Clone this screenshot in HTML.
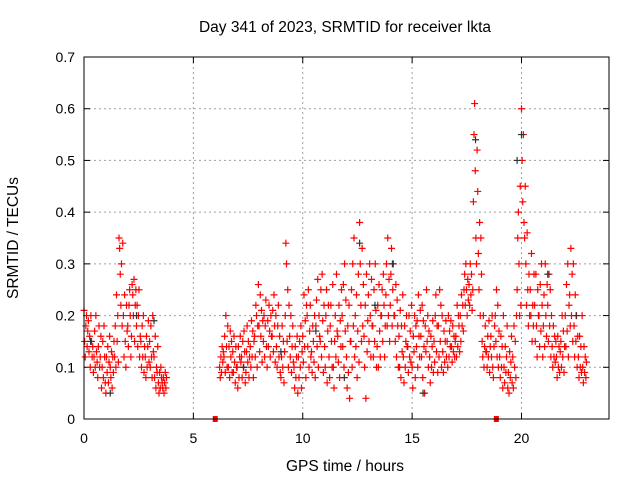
<!DOCTYPE html>
<html><head><meta charset="utf-8"><style>
body{margin:0;background:#fff}
svg{font-family:"Liberation Sans",sans-serif}
</style></head><body>
<svg id="chart" width="640" height="480" xmlns="http://www.w3.org/2000/svg">
<text x="345" y="32" font-size="15.5" text-anchor="middle">Day 341 of 2023, SRMTID for receiver lkta</text>
<text transform="translate(18,238) rotate(-90)" font-size="15.5" text-anchor="middle">SRMTID / TECUs</text>
<text x="345" y="471" font-size="15.5" text-anchor="middle">GPS time / hours</text>
<g id="grid"></g><g id="marks"></g>
<rect x="84" y="57" width="525" height="362" fill="none" stroke="#000" stroke-width="1"/>
</svg>
<script>
const xTicks=[0,5,10,15,20];
const yTicks=[0,0.1,0.2,0.3,0.4,0.5,0.6,0.7];
const yTickLabels=["0","0.1","0.2","0.3","0.4","0.5","0.6","0.7"];
const binStarts=[0,0.2,0.4,0.6,0.8,1.0,1.2,1.4,1.6,1.8,2.0,2.2,2.4,2.6,2.8,3.0,3.2,3.4,3.6,
6.2,6.4,6.6,6.8,7.0,7.2,7.4,7.6,7.8,8.0,8.2,8.4,8.6,8.8,9.0,9.2,9.4,9.6,9.8,10.0,10.2,10.4,10.6,10.8,11.0,11.2,11.4,11.6,11.8,12.0,12.2,12.4,12.6,12.8,13.0,13.2,13.4,13.6,13.8,14.0,14.2,14.4,14.6,14.8,15.0,15.2,15.4,15.6,15.8,16.0,16.2,16.4,16.6,16.8,17.0,17.2,17.4,17.6,17.8,18.0,18.2,18.4,18.6,18.8,19.0,19.2,19.4,19.6,19.8,20.0,20.2,20.4,20.6,20.8,21.0,21.2,21.4,21.6,21.8,22.0,22.2,22.4,22.6,22.8];
const binValues=[
[.21,.15,.12,.18,.2,.14,.17],[.19,.13,.16,.1,.2,.15,.12],[.14,.09,.12,.17,.1,.2,.13],[.11,.08,.14,.18,.1,.12,.16],[.06,.1,.15,.08,.18,.12,.07],[.05,.12,.09,.14,.07,.11,.16],[.1,.08,.13,.06,.12,.09,.15],[.12,.18,.1,.24,.15,.2,.11],[.35,.33,.28,.22,.3,.18,.34],[.2,.12,.24,.15,.1,.22,.17],[.18,.14,.22,.25,.2,.12,.16],[.26,.24,.2,.27,.15,.22,.25],[.18,.22,.14,.2,.25,.12,.16],[.15,.1,.18,.12,.2,.09,.14],[.12,.08,.16,.1,.14,.19,.11],[.15,.1,.18,.12,.08,.2,.13],[.12,.08,.16,.06,.1,.09,.14],[.07,.05,.09,.06,.1,.08,.07],[.06,.08,.05,.07,.09,.06,.08],
[.1,.08,.12,.09,.14,.11,.13],[.12,.16,.09,.2,.14,.1,.18],[.1,.14,.08,.17,.12,.15,.09],[.13,.09,.16,.11,.07,.14,.1],[.1,.06,.14,.08,.12,.16,.11],[.12,.08,.15,.1,.17,.13,.07],[.09,.13,.18,.11,.15,.08,.12],[.14,.1,.19,.12,.17,.08,.15],[.16,.12,.22,.2,.1,.18,.26],[.18,.13,.24,.16,.21,.11,.19],[.15,.2,.12,.18,.23,.14,.1],[.19,.14,.22,.17,.12,.2,.16],[.16,.21,.13,.24,.18,.11,.2],[.14,.1,.18,.22,.12,.16,.09],[.08,.12,.18,.1,.15,.07,.13],[.2,.34,.3,.15,.25,.1,.22],[.16,.12,.2,.09,.14,.18,.11],[.1,.06,.14,.08,.12,.16,.05],[.12,.08,.15,.1,.18,.06,.13],[.16,.11,.24,.14,.19,.08,.22],[.2,.14,.25,.1,.17,.22,.12],[.13,.09,.18,.15,.11,.2,.08],[.18,.23,.14,.27,.1,.2,.16],[.15,.25,.12,.28,.19,.09,.22],[.14,.1,.2,.25,.07,.17,.22],[.12,.08,.18,.22,.15,.1,.26],[.1,.06,.15,.2,.12,.28,.17],[.16,.11,.22,.08,.19,.14,.25],[.2,.14,.26,.1,.3,.17,.23],[.12,.06,.18,.09,.22,.04,.15],[.15,.25,.1,.3,.18,.35,.12],[.2,.14,.24,.08,.17,.28,.11],[.38,.3,.22,.15,.33,.18,.26],[.16,.1,.22,.04,.28,.13,.19],[.24,.15,.3,.2,.12,.27,.18],[.18,.12,.25,.15,.3,.21,.1],[.14,.22,.1,.26,.17,.12,.2],[.2,.25,.15,.28,.22,.12,.18],[.24,.3,.18,.35,.2,.27,.15],[.22,.28,.33,.18,.25,.3,.2],[.2,.15,.26,.12,.23,.18,.1],[.16,.1,.21,.08,.18,.13,.24],[.12,.07,.18,.1,.15,.2,.14],[.14,.09,.2,.12,.17,.11,.22],[.1,.06,.16,.13,.2,.08,.18],[.14,.19,.1,.24,.16,.12,.21],[.16,.12,.22,.08,.19,.14,.05],[.18,.13,.25,.15,.2,.1,.17],[.12,.07,.16,.1,.14,.19,.09],[.15,.11,.2,.24,.13,.18,.09],[.18,.12,.25,.15,.22,.1,.2],[.13,.09,.17,.11,.15,.19,.12],[.15,.1,.2,.12,.17,.14,.19],[.14,.11,.18,.13,.16,.12,.15],[.16,.12,.22,.14,.2,.18,.13],[.2,.15,.24,.18,.22,.17,.25],[.28,.22,.3,.25,.2,.27,.23],[.26,.22,.3,.24,.28,.21,.25],[.42,.55,.61,.48,.35,.3,.52],[.44,.32,.25,.38,.2,.35,.28],[.15,.12,.2,.1,.14,.18,.13],[.13,.1,.16,.12,.19,.09,.14],[.16,.12,.2,.1,.08,.14,.18],[.2,.15,.25,.12,.22,.1,.17],[.12,.08,.16,.1,.14,.06,.2],[.1,.07,.14,.09,.12,.18,.06],[.09,.05,.13,.08,.11,.16,.07],[.12,.06,.18,.1,.15,.08,.2],[.25,.35,.4,.3,.2,.45,.22],[.6,.5,.42,.55,.38,.35,.45],[.3,.22,.36,.25,.18,.28,.2],[.25,.2,.32,.15,.22,.18,.28],[.22,.15,.28,.18,.12,.25,.2],[.2,.14,.26,.17,.3,.22,.12],[.18,.24,.14,.3,.2,.16,.26],[.22,.15,.28,.18,.25,.12,.2],[.14,.1,.18,.12,.16,.11,.15],[.12,.08,.16,.1,.14,.09,.13],[.15,.1,.2,.12,.17,.09,.14],[.2,.14,.26,.17,.3,.12,.22],[.24,.18,.33,.2,.28,.15,.3],[.18,.12,.24,.15,.2,.1,.16],[.12,.08,.16,.1,.14,.09,.2],[.1,.07,.14,.09,.12,.08,.11]];
const blackT=[0.3,1.2,2.4,3.2,7.3,9.0,10.6,11.9,12.6,13.3,14.1,15.5,17.9,19.8,20.0,21.2,22.5];
const blackV=[0.15,0.05,0.2,0.19,0.1,0.13,0.17,0.08,0.34,0.22,0.3,0.05,0.54,0.5,0.55,0.28,0.2];
const gapT=[6.0,18.85];
const gapV=[0,0];
const X0=84,X1=609,Y0=419,Y1=57;
const xs=t=>X0+t/24*(X1-X0);
const ys=v=>Y0-v/0.7*(Y0-Y1);
const NS="http://www.w3.org/2000/svg";
const grid=document.getElementById('grid'),marks=document.getElementById('marks');
function mk(tag,attrs,parent){const e=document.createElementNS(NS,tag);for(const k in attrs)e.setAttribute(k,attrs[k]);parent.appendChild(e);return e;}
yTicks.forEach((v,i)=>{const y=ys(v);
 if(i>0&&i<yTicks.length-1){const l=mk('line',{x1:X0,x2:X1,y1:y,y2:y,stroke:'#a0a0a0','stroke-dasharray':'2,3'},grid);
 
 }
 mk('line',{x1:X0,x2:X0+6,y1:y,y2:y,stroke:'#000'},grid);
 mk('line',{x1:X1,x2:X1-6,y1:y,y2:y,stroke:'#000'},grid);
 const t=mk('text',{x:X0-9,y:y+5,'font-size':14,'text-anchor':'end'},grid);t.textContent=yTickLabels[i];
 
 });
xTicks.forEach(v=>{const x=xs(v);
 if(v>0){const l=mk('line',{x1:x,x2:x,y1:Y0,y2:Y1,stroke:'#a0a0a0','stroke-dasharray':'2,3'},grid);
 
 }
 mk('line',{x1:x,x2:x,y1:Y0,y2:Y0-6,stroke:'#000'},grid);
 mk('line',{x1:x,x2:x,y1:Y1,y2:Y1+6,stroke:'#000'},grid);
 const t=mk('text',{x:x,y:Y0+24,'font-size':14,'text-anchor':'middle'},grid);t.textContent=String(v);
 
 });
function cross(t,v,color,name){const x=xs(t),y=ys(v);
 const p=mk('path',{d:`M${x-3.5},${y}h7M${x},${y-3.5}v7`,stroke:color,'stroke-width':1.2,fill:'none'},marks);
 
 }
binStarts.forEach((t0,i)=>{const vals=binValues[i];vals.forEach((v,k)=>cross(t0+k*0.2/vals.length,v,'#ff0000','srmtid-point'));});
blackT.forEach((t,i)=>cross(t,blackV[i],'#333','srmtid-point-alt'));
gapT.forEach((t,i)=>{const r=mk('rect',{x:xs(t)-2.5,y:ys(gapV[i])-3,width:5,height:6,fill:'#ff0000'},marks);
 
 });
</script>
</body></html>
